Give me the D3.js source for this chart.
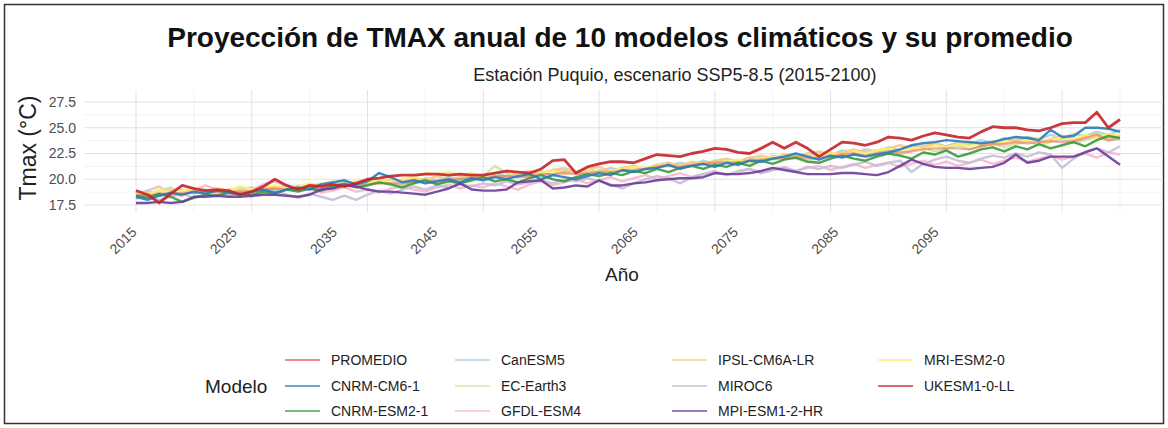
<!DOCTYPE html>
<html>
<head>
<meta charset="utf-8">
<script src="https://cdn.jsdelivr.net/npm/d3@7"></script>
<style>
  body { margin: 0; background: #fff; }
  text { font-family: "Liberation Sans", Arial, sans-serif; }
</style>
</head>
<body>
<div class="chart"></div>
<script>
// Years and series (Tmax anual, °C)
var years = d3.range(2015, 2101);

var promedio = [18.4,18.5,18.4,18.6,18.6,18.7,18.8,18.8,18.7,18.8,
  18.8,19.0,19.1,19.0,19.0,19.1,19.2,19.3,19.4,19.4,
  19.5,19.6,19.6,19.6,19.7,19.8,19.8,19.9,20.0,20.1,
  20.0,20.3,20.3,20.2,20.3,20.5,20.5,20.6,20.5,20.6,
  20.7,20.7,20.8,20.9,21.0,21.2,21.3,21.2,21.4,21.5,
  21.6,21.6,21.6,21.8,21.9,22.0,22.0,22.2,22.0,22.1,
  22.2,22.4,22.5,22.3,22.5,22.7,22.6,22.7,22.9,23.0,
  23.0,23.0,22.9,23.2,23.4,23.4,23.6,23.5,23.6,23.7,
  23.6,23.7,24.0,24.3,23.8,23.9];
var cnrmCm6 = [18.3,18.0,18.4,18.7,18.5,18.8,18.6,18.9,18.7,18.5,
  18.8,19.0,18.7,19.0,19.2,19.0,19.5,19.7,19.9,19.5,
  19.8,20.6,20.2,19.7,19.9,19.6,19.8,20.0,19.7,20.1,
  19.9,20.2,20.0,20.3,20.5,20.0,20.4,20.2,20.0,20.3,
  20.6,20.4,20.9,20.7,21.0,21.1,21.4,21.0,21.3,21.5,
  21.2,21.6,21.4,21.8,21.7,22.0,22.2,22.5,22.2,21.9,
  22.3,22.1,22.4,22.2,22.4,22.6,22.9,23.3,23.5,23.6,
  23.8,23.7,23.6,23.5,23.6,23.9,24.1,24.0,23.8,24.8,
  24.1,24.2,25.0,25.0,24.9,24.6];
var cnrmEsm2 = [18.4,18.2,18.6,18.3,17.8,18.2,18.5,18.4,18.7,18.6,
  18.5,18.8,18.6,19.0,18.8,19.1,18.9,19.3,19.6,19.2,
  19.4,19.7,19.5,19.2,19.6,19.9,19.5,19.8,19.6,19.9,
  20.2,19.8,20.0,19.7,20.1,20.4,20.0,19.8,20.2,20.5,
  20.3,20.6,20.4,20.8,20.6,21.0,20.7,21.1,21.3,21.0,
  21.4,21.2,21.6,21.3,21.8,21.5,21.9,22.1,21.7,21.6,
  22.0,22.3,22.0,21.8,22.2,22.5,22.3,22.0,22.6,22.4,
  22.8,22.2,22.5,22.9,23.1,22.7,23.2,22.9,23.4,23.0,
  23.3,23.6,23.2,23.8,24.2,24.0];
var canEsm5 = [18.6,18.9,18.4,18.7,19.0,18.6,18.8,19.1,18.7,18.9,
  19.2,18.8,19.0,19.3,19.1,19.4,19.0,19.5,19.3,19.7,
  19.4,19.8,19.6,20.0,19.7,20.1,19.9,20.2,20.0,20.3,
  20.1,20.6,20.3,20.5,20.2,20.7,20.4,20.8,20.6,20.9,
  20.7,21.1,20.8,21.3,21.0,21.4,21.3,21.6,21.3,21.8,
  21.5,21.9,21.7,22.1,21.8,22.3,22.0,22.4,22.2,22.6,
  22.3,22.8,22.5,22.9,22.7,23.1,22.8,23.3,23.0,23.5,
  23.2,23.6,23.4,23.8,23.5,24.0,23.7,24.1,23.9,24.3,
  24.0,24.4,24.2,24.6,24.3,24.8];
var ecEarth3 = [18.7,18.4,18.9,19.2,18.6,18.8,19.0,18.5,18.9,19.1,
  18.8,19.2,19.0,19.4,19.1,19.3,19.6,19.2,19.5,19.8,
  19.5,19.9,19.7,19.4,19.8,20.0,19.6,19.9,20.2,20.5,
  20.3,21.3,20.6,20.2,20.4,20.6,20.9,21.1,20.7,20.4,
  20.9,20.6,21.0,21.2,20.9,21.3,21.5,21.1,21.6,21.4,
  21.7,21.9,21.5,21.8,22.1,21.9,22.2,22.0,21.7,22.3,
  22.1,22.5,22.7,22.3,22.6,22.9,22.4,22.8,23.1,22.7,
  23.0,23.3,22.9,23.2,23.5,23.1,23.4,23.7,23.3,23.6,
  23.9,23.5,23.8,24.1,23.7,24.2];
var gfdlEsm4 = [18.2,18.9,19.3,18.6,18.4,18.9,19.4,19.0,18.7,19.2,
  19.0,19.5,19.8,19.3,18.9,19.1,18.7,18.9,19.2,18.8,
  19.0,18.7,19.1,19.3,19.0,18.8,19.2,19.5,19.1,19.4,
  19.2,19.6,19.3,19.0,19.5,19.8,19.4,19.7,20.0,19.6,
  19.9,20.2,19.8,20.1,20.4,20.0,20.3,20.6,20.2,20.5,
  20.8,20.4,20.7,21.0,20.6,20.9,21.2,20.8,21.1,21.3,
  20.9,21.2,21.5,21.1,21.4,21.6,21.2,21.5,21.8,21.4,
  21.7,21.3,21.6,21.9,21.5,21.8,22.1,21.7,22.0,22.3,
  21.9,22.2,22.5,22.1,22.6,22.4];
var ipsl = [18.5,18.8,18.6,19.0,18.7,19.1,18.9,18.6,19.0,18.8,
  19.1,18.9,19.3,19.0,19.4,19.2,19.5,19.8,19.4,19.7,
  19.9,19.6,20.0,19.8,20.1,19.9,20.3,20.0,20.2,20.4,
  20.1,20.3,20.2,20.6,20.8,20.5,20.9,21.0,20.7,20.9,
  21.2,20.8,21.1,21.3,21.0,21.4,21.6,21.3,21.7,21.5,
  21.8,22.0,21.7,22.1,22.3,22.0,22.4,22.2,22.5,22.7,
  22.4,22.6,22.9,22.6,22.8,23.0,23.3,23.0,23.2,23.5,
  23.1,23.4,23.6,23.3,23.7,23.5,23.8,24.0,23.6,23.9,
  24.2,23.8,24.1,24.4,24.0,24.3];
var miroc6 = [18.1,18.4,18.0,18.3,18.6,18.2,18.5,18.9,18.4,18.7,
  18.3,18.6,18.9,18.5,18.2,18.6,18.3,18.0,18.4,18.0,
  18.5,18.9,18.6,19.0,19.3,19.0,19.4,19.2,19.5,19.3,
  19.6,19.4,19.8,19.5,19.7,19.9,19.6,20.0,19.8,20.1,
  19.8,19.5,19.1,19.6,20.0,20.3,20.1,19.6,20.2,20.5,
  20.7,20.4,20.8,21.0,20.6,20.9,21.1,20.8,21.2,21.0,
  21.3,21.1,21.4,21.7,21.3,21.6,21.8,20.7,21.5,21.9,
  22.2,21.8,21.6,22.0,22.3,22.1,22.5,22.2,22.6,22.4,
  21.1,22.0,22.7,23.0,22.6,23.2];
var mpi = [17.7,17.7,17.8,17.7,17.8,18.3,18.3,18.4,18.3,18.3,
  18.4,18.5,18.5,18.4,18.3,18.5,19.0,19.1,19.4,19.3,
  19.0,18.8,18.8,18.7,18.6,18.5,18.8,19.1,19.6,19.0,
  18.9,18.9,19.0,19.7,19.8,19.9,19.1,19.2,19.4,19.3,
  19.9,19.4,19.4,19.6,19.7,19.9,20.0,20.1,20.1,20.2,
  20.6,20.5,20.5,20.6,20.8,21.1,20.9,20.7,20.5,20.5,
  20.5,20.6,20.6,20.5,20.4,20.7,21.3,21.9,21.5,21.2,
  21.1,21.1,21.0,21.1,21.2,21.6,22.4,21.6,21.8,22.2,
  22.2,22.2,22.6,23.0,22.2,21.4];
var mri = [18.8,18.5,19.0,18.7,18.9,19.2,18.8,19.1,18.9,19.3,
  19.0,19.2,19.4,19.1,19.3,19.6,19.4,19.7,19.5,19.8,
  19.6,19.9,19.7,20.0,20.2,20.6,20.5,20.7,20.4,20.6,
  20.3,20.5,20.8,20.6,20.3,20.6,20.8,20.5,20.7,20.9,
  20.6,20.8,21.0,21.2,21.1,21.2,21.3,21.1,21.4,21.6,
  21.3,21.7,21.9,21.6,22.0,22.2,21.9,22.3,22.1,22.4,
  22.6,22.3,22.7,22.5,22.8,23.0,22.7,23.1,22.9,23.3,
  23.1,23.4,23.2,23.6,23.3,23.7,23.5,23.8,24.0,23.7,
  24.1,23.9,24.3,24.0,24.4,24.2];
var ukesm = [18.9,18.5,17.7,18.6,19.4,19.1,18.9,19.0,18.9,18.5,
  18.8,19.3,20.0,19.4,19.0,19.4,19.3,19.5,19.3,19.6,
  20.0,20.1,20.3,20.4,20.4,20.5,20.5,20.4,20.5,20.4,
  20.4,20.6,20.8,20.7,20.6,21.0,21.8,21.9,20.6,21.2,
  21.5,21.7,21.7,21.6,22.0,22.4,22.3,22.2,22.5,22.7,
  23.0,22.9,22.6,22.5,23.0,23.6,23.0,23.6,23.0,22.2,
  22.9,23.6,23.5,23.3,23.6,24.1,24.0,23.8,24.2,24.5,
  24.3,24.1,24.0,24.6,25.1,25.0,25.0,24.8,24.7,25.0,
  25.4,25.5,25.5,26.5,25.0,25.8];

// Legend order and colours
var modelos = ["PROMEDIO", "CNRM-CM6-1", "CNRM-ESM2-1", "CanESM5", "EC-Earth3", "GFDL-ESM4",
  "IPSL-CM6A-LR", "MIROC6", "MPI-ESM1-2-HR", "MRI-ESM2-0", "UKESM1-0-LL"];
var valores = [promedio, cnrmCm6, cnrmEsm2, canEsm5, ecEarth3, gfdlEsm4, ipsl, miroc6, mpi, mri, ukesm];
var colores = ["#E4595C", "#2B7BB9", "#3A9A3C", "#A9CFE3", "#CFE3A0", "#F6B8CF",
  "#FBC884", "#C7BED6", "#6A3D9A", "#FFEE70", "#C3232B"];
// drawing order: pale first, strong last
var drawOrder = ["GFDL-ESM4", "MIROC6", "CanESM5", "EC-Earth3", "IPSL-CM6A-LR", "MRI-ESM2-0",
  "PROMEDIO", "CNRM-ESM2-1", "CNRM-CM6-1", "MPI-ESM1-2-HR", "UKESM1-0-LL"];

var yTicks = [17.5, 20.0, 22.5, 25.0, 27.5];
var xLabels = [2015, 2025, 2035, 2045, 2055, 2065, 2075, 2085, 2095];

var svgWidth = 1168;
var svgHeight = 428;

var svg = d3.select(".chart")
  .append("svg")
  .attr("width", svgWidth)
  .attr("height", svgHeight);

svg.append("rect")
  .attr("width", svgWidth).attr("height", svgHeight)
  .attr("fill", "#fff");

// outer frame
svg.append("rect")
  .attr("x", 4.5).attr("y", 4.5)
  .attr("width", svgWidth - 9).attr("height", svgHeight - 9)
  .attr("fill", "none").attr("stroke", "#333").attr("stroke-width", 1.5);

// panel bounds
var panel = {left: 84, right: 1163, top: 90, bottom: 212};

var x = d3.scaleLinear().domain([2015, 2100]).range([136, 1120]);
var y = d3.scaleLinear().domain([17.5, 27.5]).range([205, 102]);
// tick labels sit on their own spacing in the reference
var xLab = d3.scaleLinear().domain([2015, 2095]).range([130, 932]);

var grid = svg.append("g");
// minor grid
d3.range(18.75, 28, 2.5).forEach(function(v) {
  grid.append("line")
    .attr("x1", panel.left).attr("x2", panel.right)
    .attr("y1", y(v)).attr("y2", y(v))
    .attr("stroke", "#eeeeee").attr("stroke-width", 0.7);
});
d3.range(2020, 2101, 10).forEach(function(v) {
  grid.append("line")
    .attr("x1", x(v)).attr("x2", x(v))
    .attr("y1", panel.top).attr("y2", panel.bottom)
    .attr("stroke", "#eeeeee").attr("stroke-width", 0.7);
});
// major grid
yTicks.forEach(function(v) {
  grid.append("line")
    .attr("x1", panel.left).attr("x2", panel.right)
    .attr("y1", y(v)).attr("y2", y(v))
    .attr("stroke", "#e2e2e2").attr("stroke-width", 1);
});
d3.range(2015, 2100, 10).forEach(function(v) {
  grid.append("line")
    .attr("x1", x(v)).attr("x2", x(v))
    .attr("y1", panel.top).attr("y2", panel.bottom)
    .attr("stroke", "#e2e2e2").attr("stroke-width", 1);
});

// y axis labels
var leftAxis = d3.axisLeft(y).tickValues(yTicks).tickSize(0).tickPadding(0)
  .tickFormat(d3.format(".1f"));
var gy = svg.append("g")
  .attr("transform", "translate(" + 76 + ",0)")
  .call(leftAxis);
gy.select(".domain").remove();
gy.selectAll("text")
  .attr("fill", "#4d4d4d")
  .style("font-size", "14px")
  .attr("x", 0);

// x axis labels (rotated 45)
var bottomAxis = d3.axisBottom(xLab).tickValues(xLabels).tickSize(0).tickFormat(d3.format("d"));
var gx = svg.append("g")
  .attr("transform", "translate(0," + 226 + ")")
  .call(bottomAxis);
gx.select(".domain").remove();
gx.selectAll("text")
  .attr("fill", "#4d4d4d")
  .style("font-size", "14px")
  .attr("text-anchor", "end")
  .attr("dy", "0.7em")
  .attr("y", 0)
  .attr("transform", "rotate(-45)");

// lines
var line = d3.line()
  .x(function(d, i) { return x(years[i]); })
  .y(function(d) { return y(d); });

drawOrder.forEach(function(m) {
  var k = modelos.indexOf(m);
  svg.append("path")
    .datum(valores[k])
    .attr("fill", "none")
    .attr("stroke", colores[k])
    .attr("stroke-width", m === "UKESM1-0-LL" ? 2.8 : 2.4)
    .attr("stroke-linejoin", "round")
    .attr("opacity", m === "PROMEDIO" ? 0.5 : 0.9)
    .attr("d", line);
});

// titles
svg.append("text")
  .attr("x", 620).attr("y", 47)
  .attr("text-anchor", "middle")
  .style("font-size", "28px").style("font-weight", "bold")
  .attr("fill", "#111")
  .text("Proyección de TMAX anual de 10 modelos climáticos y su promedio");

svg.append("text")
  .attr("x", 675).attr("y", 81)
  .attr("text-anchor", "middle")
  .style("font-size", "18px")
  .attr("fill", "#222")
  .text("Estación Puquio, escenario SSP5-8.5 (2015-2100)");

svg.append("text")
  .attr("transform", "translate(36,148) rotate(-90)")
  .attr("text-anchor", "middle")
  .style("font-size", "23px")
  .attr("fill", "#222")
  .text("Tmax (°C)");

svg.append("text")
  .attr("x", 622).attr("y", 281)
  .attr("text-anchor", "middle")
  .style("font-size", "19px")
  .attr("fill", "#222")
  .text("Año");

// legend
var legCols = [285, 455, 672, 878];
var legRows = [360, 386, 411];

svg.append("text")
  .attr("x", 205).attr("y", legRows[1] + 7)
  .style("font-size", "19px")
  .attr("fill", "#222")
  .text("Modelo");

modelos.forEach(function(m, i) {
  var cx = legCols[Math.floor(i / 3)];
  var cy = legRows[i % 3];
  svg.append("line")
    .attr("x1", cx).attr("x2", cx + 35)
    .attr("y1", cy).attr("y2", cy)
    .attr("stroke", colores[i])
    .attr("stroke-width", 1.3)
    .attr("opacity", 0.9);
  svg.append("text")
    .attr("x", cx + 46).attr("y", cy + 5)
    .style("font-size", "14px")
    .attr("fill", "#222")
    .text(m);
});
</script>
</body>
</html>
